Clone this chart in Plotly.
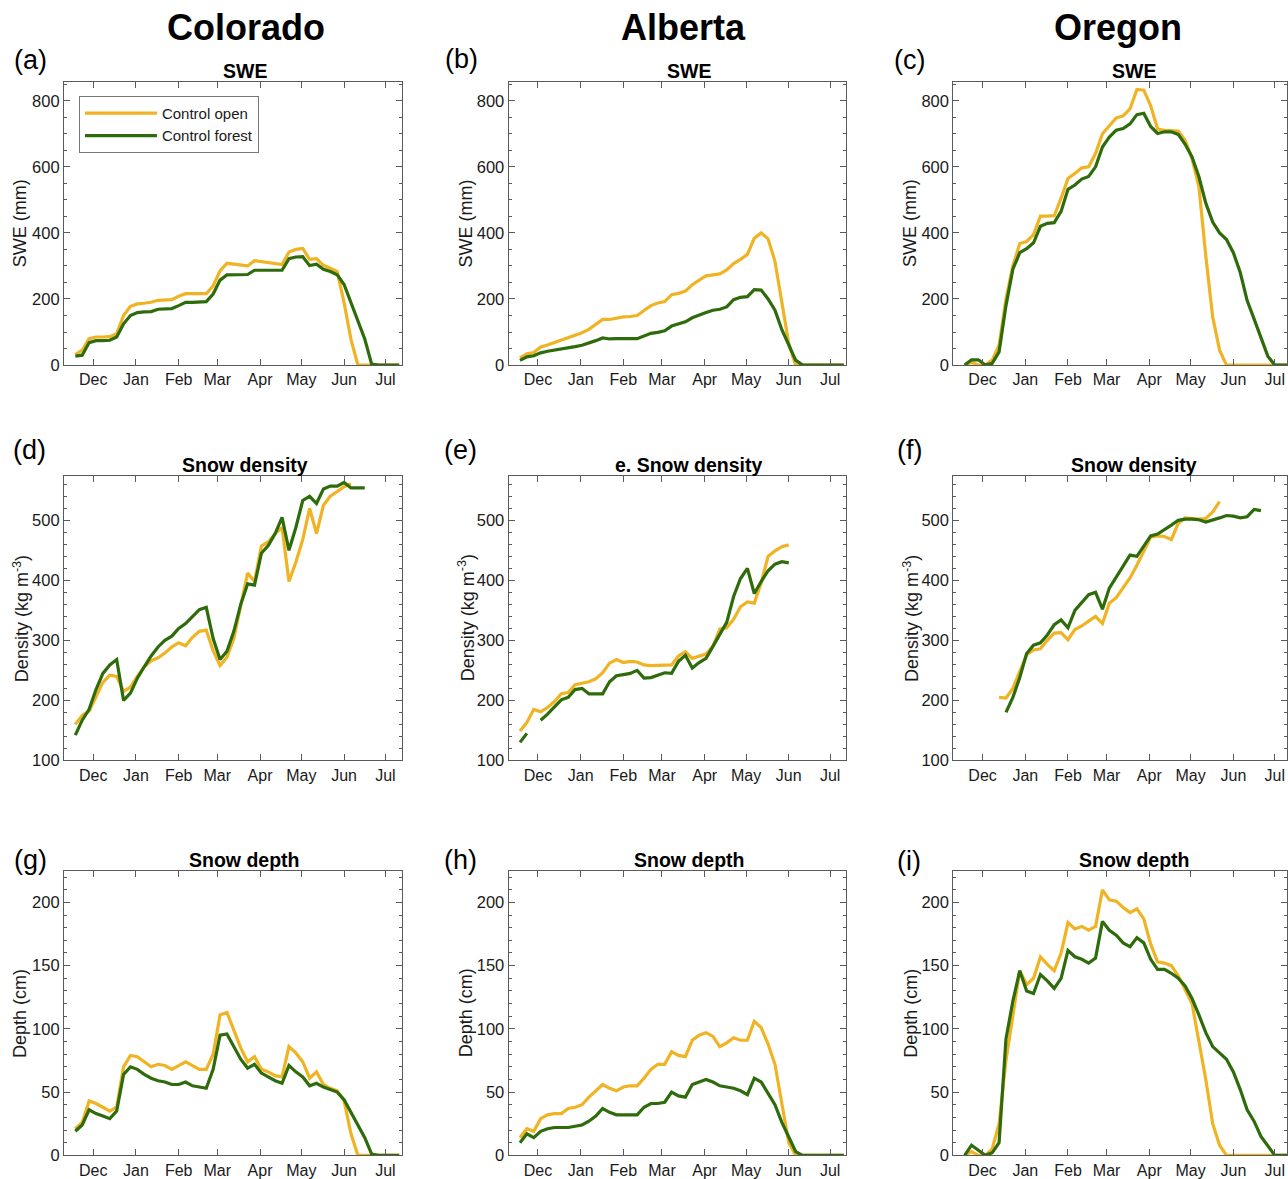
import pandas as pd
import plotly.graph_objects as go

W, H = 1288, 1179
N = None

# 5-day sampling dates (water year 2017-18)
DATES = pd.date_range("2017-11-18", periods=48, freq="5D")

MONTH_TICKS = ["2017-12-01", "2018-01-01", "2018-02-01", "2018-03-01",
               "2018-04-01", "2018-05-01", "2018-06-01", "2018-07-01"]
MONTH_LABELS = ["Dec", "Jan", "Feb", "Mar", "Apr", "May", "Jun", "Jul"]

SITES = ["Colorado", "Alberta", "Oregon"]
PANEL_LETTERS = ["(a)", "(b)", "(c)", "(d)", "(e)", "(f)", "(g)", "(h)", "(i)"]
PANEL_TITLES = ["SWE", "SWE", "SWE",
                "Snow density", "e. Snow density", "Snow density",
                "Snow depth", "Snow depth", "Snow depth"]
SERIES_NAMES = ["Control open", "Control forest"]

# ---- SWE (mm) ----
swe_open_co = [32, 45, 80, 85, 85, 86, 95, 150, 178, 185, 187, 190, 196, 197, 198, 208,
               216, 216, 216, 216, 240, 285, 308, 306, 304, 300, 316, 313, 310, 306, 304, 342,
               350, 353, 320, 322, 302, 293, 283, 189, 78, 0, 0, 0, 0, 0, 0, 0]
swe_forest_co = [27, 30, 68, 74, 74, 75, 85, 125, 150, 159, 161, 162, 169, 171, 171, 180,
                 190, 190, 190, 192, 215, 257, 273, 273, 273, 274, 287, 287, 286, 286, 287, 322,
                 327, 328, 301, 305, 290, 283, 273, 244, 187, 135, 79, 3, 0, 0, 0, 0]
swe_open_ab = [22, 34, 38, 55, 61, 68, 75, 82, 90, 98, 108, 122, 138, 138, 142, 146,
               147, 150, 165, 180, 188, 192, 213, 217, 224, 243, 257, 270, 273, 276, 288, 307,
               320, 335, 384, 400, 382, 314, 190, 65, 0, 0, 0, 0, 0, 0, 0, 0]
swe_forest_ab = [14, 25, 28, 37, 42, 45, 49, 52, 56, 60, 66, 74, 82, 79, 80, 80,
                 80, 80, 88, 96, 99, 104, 118, 125, 131, 143, 152, 159, 166, 169, 176, 198,
                 205, 207, 228, 227, 200, 166, 107, 60, 15, 0, 0, 0, 0, 0, 0, 0]
swe_open_or = [0, 8, 0, 0, 15, 60, 200, 300, 368, 374, 395, 451, 451, 452, 505, 565,
               580, 597, 600, 640, 700, 725, 748, 754, 775, 834, 832, 785, 715, 710, 709, 708,
               680, 625, 540, 330, 145, 45, 0, 0, 0, 0, 0, 0, 0, 0, 0, 0]
swe_forest_or = [0, 16, 16, 0, 5, 40, 180, 290, 340, 352, 370, 420, 429, 431, 465, 532,
                 545, 563, 571, 600, 660, 690, 711, 716, 730, 758, 762, 722, 701, 706, 706, 698,
                 668, 630, 570, 490, 433, 400, 380, 340, 280, 195, 140, 82, 27, 0, 0, 0]

# ---- Snow density (kg m-3) ----
den_open_co = [160, 175, 182, 205, 230, 242, 240, 215, 222, 240, 256, 266, 271, 279, 289, 296,
               291, 305, 315, 317, 283, 258, 272, 303, 355, 412, 398, 457, 464, 478, 488, 398,
               430, 468, 520, 478, 525, 540, 548, 556, 561, N, N, N, N, N, N, N]
den_forest_co = [142, 167, 185, 218, 245, 259, 268, 200, 212, 237, 256, 274, 289, 300, 307, 320,
                 328, 339, 351, 355, 303, 268, 282, 315, 360, 394, 392, 445, 458, 478, 505, 450,
                 488, 533, 540, 528, 552, 557, 557, 563, 554, 554, 554, N, N, N, N, N]
den_open_ab = [149, 163, 185, 181, 188, 198, 211, 213, 226, 229, 231, 236, 246, 262, 268, 263,
               265, 264, 259, 258, 258, 259, 259, 274, 281, 270, 273, 277, 290, 319, 321, 335,
               356, 364, 362, 396, 440, 449, 456, 459, N, N, N, N, N, N, N, N]
den_forest_ab = [130, 145, N, 167, 177, 189, 201, 205, 218, 220, 211, 211, 211, 231, 241, 243,
                 245, 250, 237, 238, 242, 246, 245, 265, 275, 254, 263, 270, 290, 310, 330, 373,
                 403, 420, 378, 398, 416, 427, 431, 429, N, N, N, N, N, N, N, N]
den_open_or = [N, N, N, N, N, 205, 204, 220, 248, 276, 284, 286, 300, 312, 313, 301,
               318, 324, 332, 340, 328, 362, 371, 388, 404, 425, 448, 472, 474, 473, 468, 495,
               504, 503, 502, 503, 514, 531, N, N, N, N, N, N, N, N, N, N]
den_forest_or = [N, N, N, N, N, N, 180, 205, 238, 278, 292, 296, 309, 326, 334, 321,
                 350, 364, 376, 380, 352, 387, 405, 425, 442, 440, 458, 474, 477, 484, 492, 500,
                 502, 502, 501, 497, 500, 504, 508, 507, 504, 506, 518, 516, N, N, N, N]

# ---- Snow depth (cm) ----
dep_open_co = [21, 26, 43, 41, 38, 35, 38, 70, 79, 78, 74, 70, 72, 71, 68, 71,
               74, 71, 68, 68, 80, 111, 113, 99, 85, 74, 78, 68, 66, 63, 62, 86,
               81, 74, 61, 66, 56, 53, 51, 43, 17, 0, 0, 0, 0, 0, 0, 0]
dep_forest_co = [19, 24, 36, 33, 31, 29, 35, 64, 70, 68, 64, 61, 59, 58, 56, 56,
                 58, 55, 54, 53, 68, 95, 96, 86, 76, 69, 72, 65, 62, 59, 57, 71,
                 66, 62, 55, 57, 54, 52, 50, 44, 34, 25, 14, 1, 0, 0, 0, 0]
dep_open_ab = [14, 21, 19, 29, 32, 33, 33, 37, 38, 40, 46, 51, 56, 53, 51, 54,
               55, 55, 61, 68, 72, 72, 82, 79, 78, 91, 95, 97, 94, 86, 89, 93,
               91, 91, 106, 101, 88, 72, 42, 10, 0, 0, 0, 0, 0, 0, 0, 0]
dep_forest_ab = [10, 17, 14, 19, 21, 22, 22, 22, 23, 24, 27, 31, 37, 34, 32, 32,
                 32, 32, 38, 41, 41, 42, 50, 47, 46, 56, 58, 60, 58, 55, 54, 53,
                 51, 48, 61, 58, 49, 40, 26, 15, 3, 0, 0, 0, 0, 0, 0, 0]
dep_open_or = [0, 3, 0, 0, 5, 25, 75, 110, 146, 135, 140, 157, 151, 146, 160, 184,
               179, 181, 178, 181, 210, 202, 201, 196, 192, 195, 187, 167, 153, 152, 150, 142,
               131, 120, 90, 60, 25, 8, 0, 0, 0, 0, 0, 0, 0, 0, 0, 0]
dep_forest_or = [0, 8, 4, 0, 2, 10, 92, 122, 146, 130, 128, 143, 138, 132, 140, 162,
                 157, 155, 152, 156, 185, 178, 174, 168, 165, 172, 168, 155, 147, 147, 144, 140,
                 134, 124, 111, 97, 86, 81, 76, 66, 52, 36, 27, 15, 7, 0, 0, 0]

PANELS = [
    (swe_open_co, swe_forest_co), (swe_open_ab, swe_forest_ab), (swe_open_or, swe_forest_or),
    (den_open_co, den_forest_co), (den_open_ab, den_forest_ab), (den_open_or, den_forest_or),
    (dep_open_co, dep_forest_co), (dep_open_ab, dep_forest_ab), (dep_open_or, dep_forest_or),
]

ROW_YTITLE = ["SWE (mm)", "Density (kg m<sup>-3</sup>)", "Depth (cm)"]
ROW_RANGE = [[0, 858], [100, 574], [0, 225]]
ROW_DTICK = [200, 100, 50]
ROW_MINOR = [50, 20, 10]
ROW_TICK0 = [0, 100, 0]

COLORS = ["#F0B323", "#2E6B0B"]

# ---------- layout geometry (pixels) ----------
COL_PX = [(64, 402), (509, 847), (954, 1288)]
ROW_PX = [(81.7, 365.7), (476.7, 761.7), (872.3, 1157.3)]
YTITLE_X = [[20, 466.5, 911.5], [21, 466.5, 911.5], [20, 466.5, 911.5]]
X_RANGE = [["2017-11-09 18:00", "2018-07-12 19:00"],
           ["2017-11-09 18:00", "2018-07-12 19:00"],
           ["2017-11-09 18:00", "2018-07-09 22:00"]]

FONT = "Liberation Sans, Arial, sans-serif"
AX_COLOR = "#5a5a5a"
TXT = "#1a1a1a"
H_EFF = 1170.0  # observed rendered vertical scale

fig = go.Figure()
layout = dict(width=W, height=H, margin=dict(l=0, r=0, t=0, b=0),
              paper_bgcolor="white", plot_bgcolor="white",
              font=dict(family=FONT, color=TXT, size=16),
              showlegend=True)
annotations = []

def px2x(p):
    return p / W

def px2y(p):
    return 1 - p / H_EFF

for i in range(9):
    r, c = divmod(i, 3)
    n = i + 1
    xa = "xaxis" if n == 1 else f"xaxis{n}"
    ya = "yaxis" if n == 1 else f"yaxis{n}"
    xref = "x" if n == 1 else f"x{n}"
    yref = "y" if n == 1 else f"y{n}"
    x0, x1 = COL_PX[c]
    y0, y1 = ROW_PX[r]
    layout[xa] = dict(
        domain=[px2x(x0), px2x(x1)], anchor=yref, type="date",
        range=X_RANGE[c], tickvals=MONTH_TICKS, ticktext=MONTH_LABELS,
        ticks="inside", ticklen=6, tickwidth=1, tickcolor=AX_COLOR,
        showline=True, linecolor=AX_COLOR, linewidth=1, mirror="allticks",
        showgrid=False, zeroline=False, tickfont=dict(size=16, color=TXT, family=FONT),
        fixedrange=True,
    )
    layout[ya] = dict(
        domain=[px2y(y1), px2y(y0)], anchor=xref,
        range=ROW_RANGE[r], dtick=ROW_DTICK[r], tick0=ROW_TICK0[r],
        ticks="inside", ticklen=6, tickwidth=1, tickcolor=AX_COLOR,
        minor=dict(ticks="inside", ticklen=3, dtick=ROW_MINOR[r], tick0=ROW_TICK0[r],
                   tickcolor=AX_COLOR, showgrid=False),
        showline=True, linecolor=AX_COLOR, linewidth=1, mirror="allticks",
        showgrid=False, zeroline=False, tickfont=dict(size=16.5, color=TXT, family=FONT),
        fixedrange=True,
    )
    open_v, forest_v = PANELS[i]
    for k, vals in enumerate((open_v, forest_v)):
        fig.add_trace(go.Scatter(
            x=DATES, y=vals, mode="lines", name=SERIES_NAMES[k],
            line=dict(color=COLORS[k], width=3.2),
            connectgaps=False, showlegend=(i == 0),
            xaxis=xref, yaxis=yref, hoverinfo="skip",
        ))
    # panel subtitle
    annotations.append(dict(
        text=f"<b>{PANEL_TITLES[i]}</b>", xref="paper", yref="paper",
        x=px2x((x0 + (x0 + 338)) / 2 + 12), y=px2y(y0 + 2),
        xanchor="center", yanchor="bottom", showarrow=False,
        font=dict(size=19.5, color="black", family=FONT),
    ))
    # y-axis title
    annotations.append(dict(
        text=ROW_YTITLE[r], xref="paper", yref="paper",
        x=px2x(YTITLE_X[r][c]), y=px2y((y0 + y1) / 2),
        xanchor="center", yanchor="middle", textangle=-90, showarrow=False,
        font=dict(size=18, color=TXT, family=FONT),
    ))

LETTER_POS = [(12.5, 60), (443, 59), (893, 60),
              (11.5, 451), (442, 451), (896, 451),
              (12.5, 861), (442, 861), (896, 862)]
for i, (lx, ly) in enumerate(LETTER_POS):
    annotations.append(dict(
        text=PANEL_LETTERS[i], xref="paper", yref="paper",
        x=px2x(lx), y=px2y(ly), xanchor="left", yanchor="middle", showarrow=False,
        font=dict(size=27, color="black", family=FONT),
    ))

SITE_X = [246.5, 684.5, 1118.5]
for s, sx in zip(SITES, SITE_X):
    annotations.append(dict(
        text=f"<b>{s}</b>", xref="paper", yref="paper",
        x=px2x(sx), y=px2y(28), xanchor="center", yanchor="middle", showarrow=False,
        font=dict(size=36, color="black", family=FONT),
    ))

layout["annotations"] = annotations
layout["legend"] = dict(
    x=px2x(79), y=px2y(96), xanchor="left", yanchor="top",
    bgcolor="white", bordercolor="#777777", borderwidth=1,
    font=dict(size=15, color=TXT, family=FONT),
    itemwidth=72, tracegroupgap=0,
)
fig.update_layout(**layout)
fig.write_html("out.html", config={"displayModeBar": False})
